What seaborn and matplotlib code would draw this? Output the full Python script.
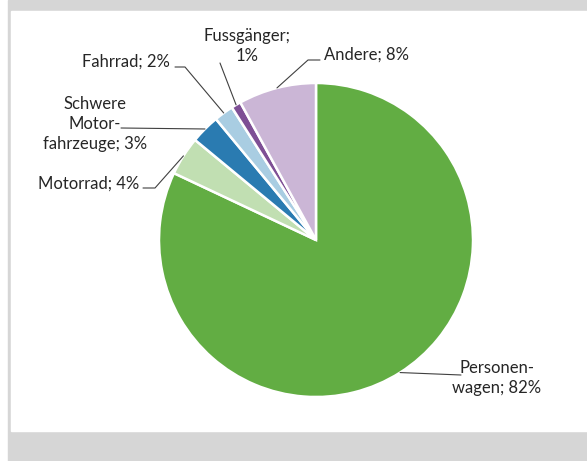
import numpy as np
import matplotlib
matplotlib.use("Agg")
import matplotlib.pyplot as plt
import matplotlib.patches as mpatches
import seaborn as sns

categories = ["Personen-\nwagen", "Motorrad", "Schwere\nMotor-\nfahrzeuge", "Fahrrad", "Fussgänger;\n", "Andere"]
shares = [82, 4, 3, 2, 1, 8]
colors = ["#62ad43", "#c1dfb2", "#2a7bb1", "#a9cde2", "#7e4f95", "#cbb6d6"]

# label layout in pixel coords from top-left: (text x, text y, ha, elbow points)
layout = [
    (497, 378, "center", [(461, 375)]),
    (139, 184, "right", [(155, 188), (143, 188)]),
    (95, 124, "center", [(121, 128)]),
    (170, 62, "right", [(185, 67), (175, 67)]),
    (247, 46, "center", [(220, 63)]),
    (324, 55, "left", [(308, 60), (320, 60)]),
]

W, H = 587, 461
sns.set_theme(style="white")
plt.rcParams["font.family"] = ["Lato", "DejaVu Sans"]

fig = plt.figure(figsize=(W / 100, H / 100), dpi=100)
fig.patch.set_facecolor("white")
ax = fig.add_axes([0, 0, 1, 1])

cx, cy, R = 316, H - 240, 157
wedges, _ = ax.pie(shares, colors=sns.color_palette(colors), startangle=90, counterclock=False,
                   center=(cx, cy), radius=R,
                   wedgeprops=dict(edgecolor="white", linewidth=1.8))

ax.add_patch(mpatches.Rectangle((8, 0), W - 8, H, color="#d6d6d6", zorder=-3))
ax.add_patch(mpatches.Rectangle((11, H - 431), W - 11, 420, color="white", zorder=-2))

for w, cat, val, (tx, ty, ha, elbows) in zip(wedges, categories, shares, layout):
    ang = np.deg2rad((w.theta1 + w.theta2) / 2)
    ax0, ay0 = cx + R * np.cos(ang), cy + R * np.sin(ang)
    xs = [ax0] + [e[0] for e in elbows]
    ys = [ay0] + [H - e[1] for e in elbows]
    ax.plot(xs, ys, color="#404040", lw=0.8, zorder=3)
    if cat.endswith("\n"):
        label = f"{cat}{val}%"
    else:
        label = f"{cat}; {val}%"
    ax.text(tx, H - ty, label, ha=ha, va="center", multialignment="center",
            fontsize=12, color="#262626", linespacing=1.3)

ax.set_xlim(0, W)
ax.set_ylim(0, H)
ax.set_aspect("equal")
ax.axis("off")
fig.savefig("out.png", dpi=100)
